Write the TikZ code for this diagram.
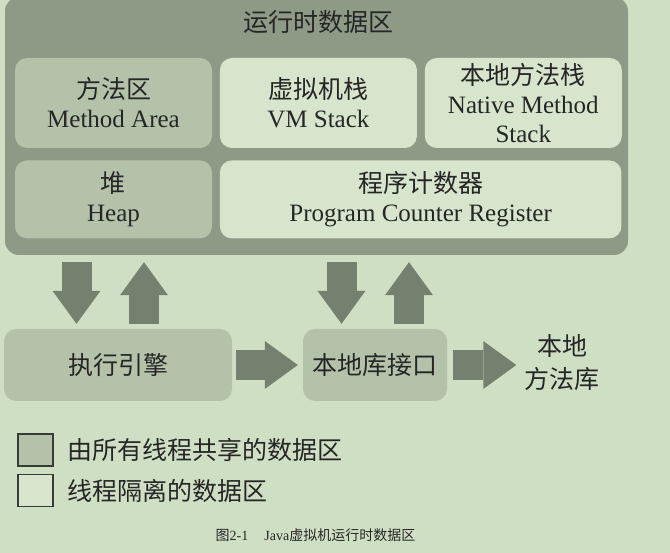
\documentclass[tikz,border=0pt]{standalone}
\usepackage{fontspec}
\setmainfont{Liberation Serif}
\newfontfamily\cjk{Noto Sans CJK SC}
\usetikzlibrary{positioning, arrows.meta, calc}

\definecolor{bgc}{RGB}{207,223,196}
\definecolor{runc}{RGB}{141,154,134}
\definecolor{sharedc}{RGB}{179,194,169}
\definecolor{privc}{RGB}{214,229,204}
\definecolor{arrc}{RGB}{117,129,111}
\definecolor{legc}{RGB}{55,60,55}

\begin{document}
\begin{tikzpicture}[
    x=1pt, y=-1pt,
    node distance=12pt and 7.5pt,
    every node/.style={
        align=center,
        text=black!85,
        font=\fontsize{25}{29}\selectfont
    },
    area/.style={rounded corners=12pt, inner sep=0pt},
    shared/.style={area, fill=sharedc},
    private/.style={area, fill=privc},
    blk/.style={line width=30pt, draw=arrc,
        -{Triangle[length=33pt, width=48pt, line width=0pt]}},
    legbox/.style={draw=legc, line width=1.5pt, minimum width=35pt,
        minimum height=32pt, inner sep=0pt}
]

\fill[bgc] (0,0) rectangle (670,553);
\useasboundingbox (0,0) rectangle (670,553);

% runtime data area
\node[fill=runc, rounded corners=14pt, minimum width=623pt,
    minimum height=258pt] (runtime) at (316.5,126) {};
\node[font=\cjk\fontsize{25}{29}\selectfont] (title) at (318,22) {运行时数据区};

\node[shared, minimum width=197pt, minimum height=90pt] (method) at (113.5,103)
    {{\cjk 方法区}\\Method Area};
\node[private, minimum width=197pt, minimum height=90pt, right=of method] (vmstack)
    {{\cjk 虚拟机栈}\\VM Stack};
\node[private, minimum width=197pt, minimum height=90pt, right=of vmstack] (native)
    {{\cjk 本地方法栈}\\Native Method\\Stack};

\node[shared, minimum width=197pt, minimum height=78pt, below=of method] (heap)
    {{\cjk 堆}\\Heap};
\node[private, minimum width=401.5pt, minimum height=78pt, right=of heap] (pc)
    {{\cjk 程序计数器}\\Program Counter Register};

% engine and native interface
\node[shared, minimum width=228pt, minimum height=72pt,
    font=\cjk\fontsize{25}{29}\selectfont] (exec) at (118,365) {执行引擎};
\node[shared, minimum width=144pt, minimum height=72pt,
    font=\cjk\fontsize{25}{29}\selectfont] (iface) at (375,365) {本地库接口};
\node[inner sep=8pt, font=\cjk\fontsize{25}{33}\selectfont] (natlib) at (562,363)
    {本地\\方法库};

\draw[blk] ($(exec.north |- runtime.south)+(-41.5,7)$) -- ($(exec.north)+(-41.5,-5)$);
\draw[blk] ($(exec.north)+(26,-5)$) -- ($(exec.north |- runtime.south)+(26,7)$);
\draw[blk] ($(iface.north |- runtime.south)+(-33.5,7)$) -- ($(iface.north)+(-33.5,-5)$);
\draw[blk] ($(iface.north)+(34,-5)$) -- ($(iface.north |- runtime.south)+(34,7)$);

\draw[blk] ([xshift=4pt]exec.east) -- ([xshift=-5pt]iface.west);
\draw[blk] ([xshift=6pt]iface.east) -- (natlib.west |- iface.east);

% legend
\node[legbox, fill=sharedc] (legshared) at (35.5,450) {};
\node[legbox, fill=privc, below=7pt of legshared] (legpriv) {};
\node[inner sep=0pt, right=14pt of legshared,
    font=\cjk\fontsize{25}{30}\selectfont] (legsharedtxt) {由所有线程共享的数据区};
\node[inner sep=0pt, right=14pt of legpriv,
    font=\cjk\fontsize{25}{30}\selectfont] (legprivtxt) {线程隔离的数据区};

\node[font=\fontsize{14}{16}\selectfont] (caption) at (315.5,535)
    {{\cjk 图}2-1\hspace{16pt}Java{\cjk 虚拟机运行时数据区}};

\end{tikzpicture}
\end{document}
